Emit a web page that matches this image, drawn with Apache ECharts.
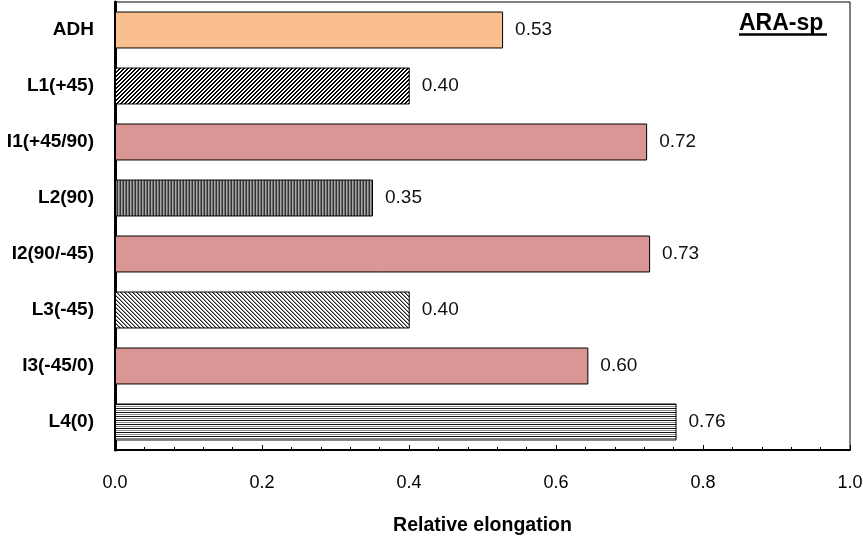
<!DOCTYPE html>
<html><head><meta charset="utf-8">
<script src="https://cdn.jsdelivr.net/npm/echarts@6/dist/echarts.min.js"></script>
<style>html,body{margin:0;padding:0;background:#fff}#c{width:863px;height:541px}</style>
</head><body><div id="c"></div>
<script>
const categories = ['ADH','L1(+45)','I1(+45/90)','L2(90)','I2(90/-45)','L3(-45)','I3(-45/0)','L4(0)'];
const values = [0.528, 0.401, 0.724, 0.351, 0.728, 0.401, 0.644, 0.764];
const valueLabels = ['0.53','0.40','0.72','0.35','0.73','0.40','0.60','0.76'];
const fillKinds = ['orange','diagUp','pink','vert','pink','diagDown','pink','horiz'];
const xTicks = [0.0, 0.2, 0.4, 0.6, 0.8, 1.0];
const titleText = 'ARA-sp';
const axisTitle = 'Relative elongation';

const FONT = '"Liberation Sans", Arial, sans-serif';

function pattern(kind){
  const c = document.createElement('canvas');
  const ctx = c.getContext('2d');
  if (kind === 'diagUp' || kind === 'diagDown'){
    c.width = 4; c.height = 4;
    ctx.fillStyle = '#ffffff';
    ctx.fillRect(0,0,4,4);
    ctx.fillStyle = kind==='diagUp' ? '#000' : '#222';
    for (let i=0;i<4;i++){
      const x = kind==='diagUp' ? (3-i) : i;
      ctx.fillRect(x, i, 1, 1);
      if (kind === 'diagUp') ctx.fillRect((x+1)%4, i, 1, 1);
    }
    if (kind === 'diagDown'){
      ctx.fillStyle = '#999';
      for (let i=0;i<4;i++){ ctx.fillRect((i+1)%4, i, 1, 1); }
    }
  } else if (kind === 'vert'){
    c.width = 3; c.height = 4;
    ctx.fillStyle = '#a8a8a8'; ctx.fillRect(0,0,3,4);
    ctx.fillStyle = '#333'; ctx.fillRect(0,0,1,4);
    ctx.fillStyle = '#707070'; ctx.fillRect(2,0,1,4);
  } else if (kind === 'horiz'){
    c.width = 4; c.height = 4;
    ctx.fillStyle = '#ffffff'; ctx.fillRect(0,0,4,4);
    ctx.fillStyle = '#111'; ctx.fillRect(0,0,4,1);
    ctx.fillStyle = '#888'; ctx.fillRect(0,2,4,1);
  }
  return {image: c, repeat: 'repeat'};
}
function fillFor(kind){
  if (kind === 'orange') return '#F9BF8F';
  if (kind === 'pink') return '#D99694';
  return pattern(kind);
}

const chart = echarts.init(document.getElementById('c'), null, {renderer:'canvas'});
chart.setOption({
  animation: false,
  backgroundColor: '#fff',
  grid: {left: 115, right: 13, top: 2, bottom: 91, outerBoundsMode: 'none', containLabel: false,
    show: true, borderColor: '#000', borderWidth: 1, backgroundColor: 'transparent'},
  xAxis: {
    type: 'value', min: 0, max: 1, interval: 0.2,
    axisLine: {show: true, lineStyle: {color: '#000', width: 2}},
    axisTick: {show: true, inside: true, length: 5, lineStyle: {color: '#000', width: 1}},
    minorTick: {show: true, splitNumber: 5, length: 3, lineStyle: {color: '#000', width: 1}},
    splitLine: {show: false},
    axisLabel: {margin: 24, fontFamily: FONT, fontSize: 18, color: '#000',
      formatter: v => { const t = xTicks.find(x => Math.abs(x - v) < 1e-6); return t === undefined ? '' : t.toFixed(1); }},
    name: axisTitle, nameLocation: 'middle', nameGap: 66,
    nameTextStyle: {fontFamily: FONT, fontSize: 19.5, fontWeight: 'bold', color: '#000'}
  },
  yAxis: {
    type: 'category', data: categories, inverse: true,
    axisLine: {show: true, lineStyle: {color: '#000', width: 3}},
    axisTick: {show: false},
    axisLabel: {margin: 21, fontFamily: FONT, fontSize: 19, fontWeight: 'bold', color: '#000'}
  },
  series: [{
    type: 'bar', barWidth: '66%',
    data: values.map((v, i) => ({value: v, itemStyle: {color: fillFor(fillKinds[i])}})),
    itemStyle: {borderColor: '#000', borderWidth: 1},
    label: {show: true, position: 'right', distance: 12, fontFamily: FONT, fontSize: 19, color: '#111',
      formatter: p => valueLabels[p.dataIndex]}
  }],
  graphic: [
    {type: 'text', x: 739, y: 24, style: {text: titleText, font: 'bold 23px "Liberation Sans", Arial', fill: '#000', verticalAlign: 'middle', align: 'left'}},
    {type: 'line', shape: {x1: 739, y1: 34.5, x2: 827, y2: 34.5}, style: {stroke: '#000', lineWidth: 2.5}}
  ]
});
</script></body></html>
